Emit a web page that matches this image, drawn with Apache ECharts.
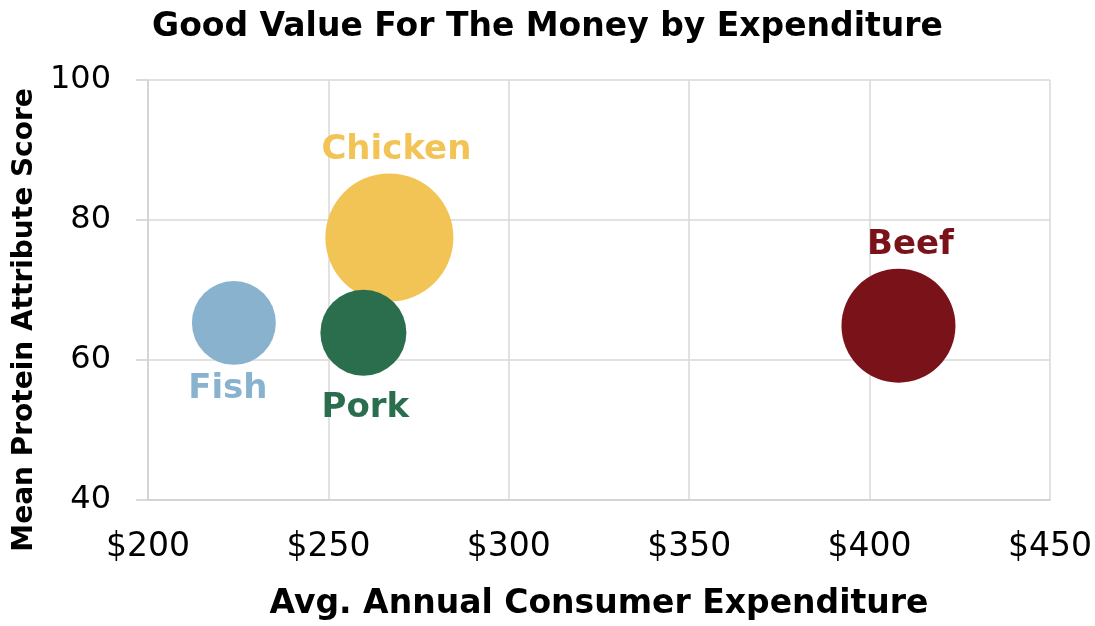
<!DOCTYPE html>
<html>
<head>
<meta charset="utf-8">
<script src="https://cdn.jsdelivr.net/npm/echarts@6/dist/echarts.min.js"></script>
<style>
  html, body { margin: 0; padding: 0; background: #fff; }
  #chart { width: 1095px; height: 626px; }
</style>
</head>
<body>
<div id="chart"></div>
<script>
// Bubble data
const proteins = ['Fish', 'Chicken', 'Pork', 'Beef'];
const expenditure = [223.8, 266.9, 259.7, 408.0];
const attributeScore = [65.3, 77.5, 63.9, 64.9];
const bubbleSize = [17.6, 41.0, 18.5, 32.5];
const colors = ['#88B2CE', '#F2C456', '#2B6E4D', '#7A1219'];
const labelPos = ['bottom', 'top', 'bottom', 'top'];
const labelDist = [7, 6, 15, 7];
const labelShift = [-6, 7, 2, 12];

const FONT = '"DejaVu Sans", sans-serif';

const chart = echarts.init(document.getElementById('chart'));

const data = proteins.map((name, i) => ({
  name: name,
  value: [expenditure[i], attributeScore[i], bubbleSize[i]],
  itemStyle: { color: colors[i], opacity: 1 },
  label: {
    show: true,
    formatter: '{b}',
    position: labelPos[i],
    distance: labelDist[i],
    offset: [labelShift[i], 0],
    color: colors[i],
    fontFamily: FONT,
    fontWeight: 'bold',
    fontSize: 34
  }
}));

chart.setOption({
  animation: false,
  title: {
    text: 'Good Value For The Money by Expenditure',
    left: 'center',
    top: 6,
    textStyle: { fontFamily: FONT, fontWeight: 'bold', fontSize: 33, color: '#000' }
  },
  grid: { left: 148, right: 43, top: 80, bottom: 124 },
  xAxis: {
    type: 'value',
    min: 200,
    max: 450,
    interval: 50,
    name: 'Avg. Annual Consumer Expenditure',
    nameLocation: 'middle',
    nameGap: 88,
    nameTextStyle: { fontFamily: FONT, fontWeight: 'bold', fontSize: 33, color: '#000' },
    axisLine: { show: true, lineStyle: { color: '#d0d0d0', width: 1.5 } },
    axisTick: { show: false },
    splitLine: { show: true, lineStyle: { color: '#d9d9d9', width: 1.5 } },
    axisLabel: { formatter: '${value}', fontFamily: FONT, fontSize: 33, color: '#000', margin: 31 }
  },
  yAxis: {
    type: 'value',
    min: 40,
    max: 100,
    interval: 20,
    name: 'Mean Protein Attribute Score',
    nameLocation: 'middle',
    nameGap: 108,
    nameTextStyle: { fontFamily: FONT, fontWeight: 'bold', fontSize: 28, color: '#000', padding: [0, 60, 0, 0] },
    axisLine: { show: true, lineStyle: { color: '#d0d0d0', width: 1.5 } },
    axisTick: { show: true, inside: false, length: 12, lineStyle: { color: '#d0d0d0', width: 1.5 } },
    splitLine: { show: true, lineStyle: { color: '#d9d9d9', width: 1.5 } },
    axisLabel: { fontFamily: FONT, fontSize: 32, color: '#000', margin: 37 }
  },
  series: [{
    type: 'scatter',
    data: data,
    symbolSize: v => 20 * Math.sqrt(v[2])
  }]
});
</script>
</body>
</html>
